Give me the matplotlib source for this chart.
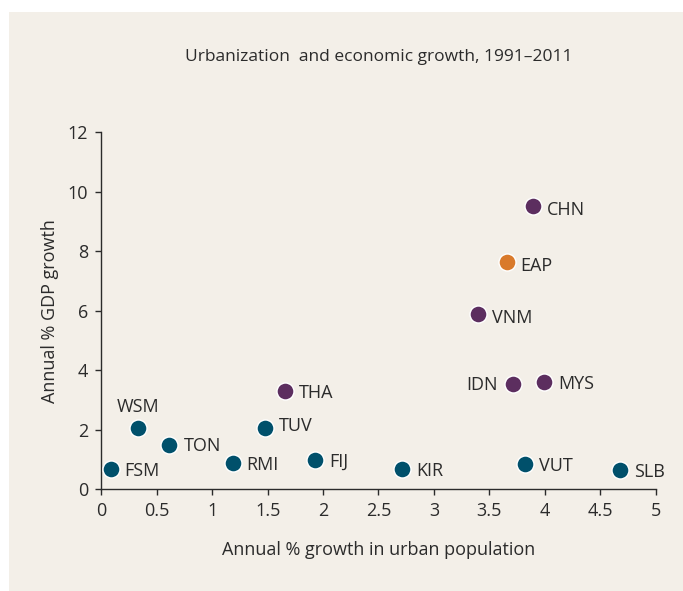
"""Urbanization and economic growth scatter, 1991-2011."""

import matplotlib
matplotlib.use("Agg")
import matplotlib.pyplot as plt
from matplotlib.patches import Rectangle

# data
codes = ["FSM", "WSM", "TON", "RMI", "TUV", "THA", "FIJ", "KIR",
         "VNM", "EAP", "CHN", "IDN", "MYS", "VUT", "SLB"]
urban_growth = [0.085, 0.334, 0.615, 1.185, 1.476, 1.654, 1.93, 2.714,
                3.397, 3.656, 3.89, 3.71, 3.995, 3.82, 4.678]
gdp_growth = [0.67, 2.07, 1.49, 0.87, 2.05, 3.30, 0.98, 0.67,
              5.89, 7.65, 9.53, 3.54, 3.60, 0.84, 0.64]
groups = ["pacific", "pacific", "pacific", "pacific", "pacific", "asia", "pacific", "pacific",
          "asia", "region", "asia", "asia", "asia", "pacific", "pacific"]

colors = {"pacific": "#00506b", "asia": "#5c2e5f", "region": "#d97a2b"}
bg = "#f3efe8"
ink = "#2b2b2b"

# label placement: (dx, dy) in points, ha
label_pos = {
    "WSM": (0, 15, "center"),
    "IDN": (-11, -1, "right"),
    "VNM": (10, -3, "left"),
    "EAP": (10, -3, "left"),
    "CHN": (10, -3, "left"),
    "TUV": (10, 2, "left"),
}

plt.rcParams["font.family"] = ["Open Sans", "DejaVu Sans"]

fig = plt.figure(figsize=(6.83, 5.91), dpi=100, facecolor="white")
fig.patches.append(Rectangle((9 / 683, 0), 1, 1 - 12 / 591, transform=fig.transFigure,
                             facecolor=bg, edgecolor="none", zorder=-10))

ax = fig.add_axes([101.3 / 683, 1 - 489.3 / 591, 554.4 / 683, 357 / 591])
ax.set_facecolor(bg)
ax.patch.set_alpha(0)

for code, x, y, g in zip(codes, urban_growth, gdp_growth, groups):
    ax.scatter(x, y, s=150, color=colors[g], edgecolor="white", linewidth=1.0,
               zorder=3, clip_on=False)
    dx, dy, ha = label_pos.get(code, (10, -1, "left"))
    ax.annotate(code, xy=(x, y), xytext=(dx, dy), textcoords="offset points",
                ha=ha, va="center", fontsize=13, color=ink)

ax.set_xlim(0, 5)
ax.set_ylim(0, 12)
ax.set_xticks([0, 0.5, 1, 1.5, 2, 2.5, 3, 3.5, 4, 4.5, 5])
ax.set_xticklabels(["0", "0.5", "1", "1.5", "2", "2.5", "3", "3.5", "4", "4.5", "5"])
ax.set_yticks(range(0, 13, 2))

for side in ("top", "right"):
    ax.spines[side].set_visible(False)
for side in ("left", "bottom"):
    ax.spines[side].set_color(ink)
    ax.spines[side].set_linewidth(1.0)
ax.tick_params(direction="out", length=4.5, width=1.0, color=ink,
               labelsize=13, labelcolor=ink, pad=5)

ax.set_xlabel("Annual % growth in urban population", fontsize=13, color=ink, labelpad=15)
ax.set_ylabel("Annual % GDP growth", fontsize=13, color=ink, labelpad=6)
ax.set_title("Urbanization  and economic growth, 1991\u20132011", fontsize=12.5,
             color=ink, pad=51)

fig.savefig("out.png", dpi=100, facecolor="white")
